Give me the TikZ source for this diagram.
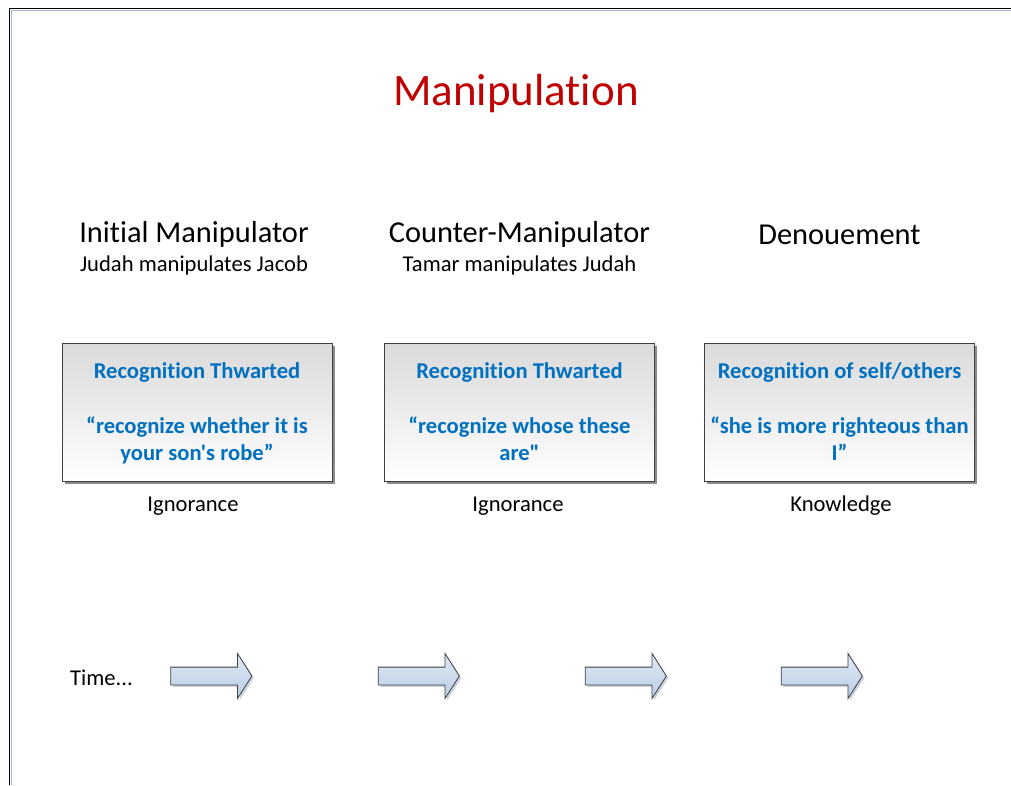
\documentclass[tikz,border=0pt]{standalone}
\usepackage{fontspec}
\setmainfont{Carlito}[Ligatures={TeXOff,CommonOff}]
\usetikzlibrary{shapes.arrows,shadows}
\definecolor{titlered}{RGB}{192,0,0}
\definecolor{boxblue}{RGB}{0,112,192}
\definecolor{framegray}{RGB}{64,64,64}
\definecolor{pageblue}{RGB}{157,185,222}
\definecolor{arrtop}{RGB}{224,233,245}
\definecolor{arrbot}{RGB}{185,205,229}
\tikzset{
  titletxt/.style={anchor=base, text=titlered, font=\fontsize{45}{54}\selectfont, inner sep=0},
  headtxt/.style={anchor=base, font=\fontsize{30.4}{36}\selectfont, inner sep=0},
  subtxt/.style={anchor=base, font=\fontsize{22.6}{27}\selectfont, inner sep=0},
  boxtxt/.style={anchor=base, text=boxblue, font=\bfseries\fontsize{22.6}{27}\selectfont, inner sep=0},
  stagebox/.style={draw=framegray, line width=0.9pt, minimum width=270pt, minimum height=138pt,
    inner sep=0, top color={rgb,255:red,218;green,218;blue,218}, bottom color=white,
    drop shadow={shadow xshift=2.5pt, shadow yshift=-2.5pt, fill=black, opacity=0.45}},
  timearrow/.style={single arrow, draw=framegray, line width=0.8pt, minimum height=81pt,
    minimum width=44pt, inner xsep=0pt, inner ysep=8.5pt, single arrow head extend=13.5pt,
    single arrow tip angle=115, top color=arrtop, bottom color=arrbot,
    drop shadow={shadow xshift=2pt, shadow yshift=-2pt, fill=arrbot!80!black, opacity=0.5}},
}
\begin{document}
\begin{tikzpicture}[x=1pt,y=-1pt]
\useasboundingbox (0,0) rectangle (1011,785);
\fill[white] (0,0) rectangle (1011,785);
% page frame
\draw[black, line width=1.3pt] (9.5,785) -- (9.5,8.5) -- (1011,8.5);
\draw[pageblue, line width=1.2pt] (11.7,785) -- (11.7,10.7) -- (1011,10.7);

\node[titletxt] (title) at (516,105) {Manipulation};

\node[headtxt] (h1) at (194,242) {Initial Manipulator};
\node[subtxt]  (s1) at (194,271) {Judah manipulates Jacob};
\node[headtxt] (h2) at (519.5,242) {Counter-Manipulator};
\node[subtxt]  (s2) at (519.5,271) {Tamar manipulates Judah};
\node[headtxt] (h3) at (839.5,244) {Denouement};

\node[stagebox] (b1) at (197,412) {};
\node[stagebox] (b2) at (519.5,412) {};
\node[stagebox] (b3) at (839.5,412) {};

\node[boxtxt] (b1a) at (197,378) {Recognition Thwarted};
\node[boxtxt] (b1b) at (197,433) {“recognize whether it is};
\node[boxtxt] (b1c) at (197,460) {your son's robe”};

\node[boxtxt] (b2a) at (519.5,378) {Recognition Thwarted};
\node[boxtxt] (b2b) at (519.5,433) {“recognize whose these};
\node[boxtxt] (b2c) at (519.5,460) {are"};

\node[boxtxt] (b3a) at (839.5,378) {Recognition of self/others};
\node[boxtxt] (b3b) at (839.5,433) {“she is more righteous than};
\node[boxtxt] (b3c) at (839.5,460) {I”};

\node[subtxt] (k1) at (193,511) {Ignorance};
\node[subtxt] (k2) at (518,511) {Ignorance};
\node[subtxt] (k3) at (841,511) {Knowledge};

\node[subtxt, anchor=base west] (time) at (70,685) {Time...};

\node[timearrow] (a1) at (208.5,676) {};
\node[timearrow] (a2) at (416,676) {};
\node[timearrow] (a3) at (623,676) {};
\node[timearrow] (a4) at (819,676) {};
\end{tikzpicture}
\end{document}
